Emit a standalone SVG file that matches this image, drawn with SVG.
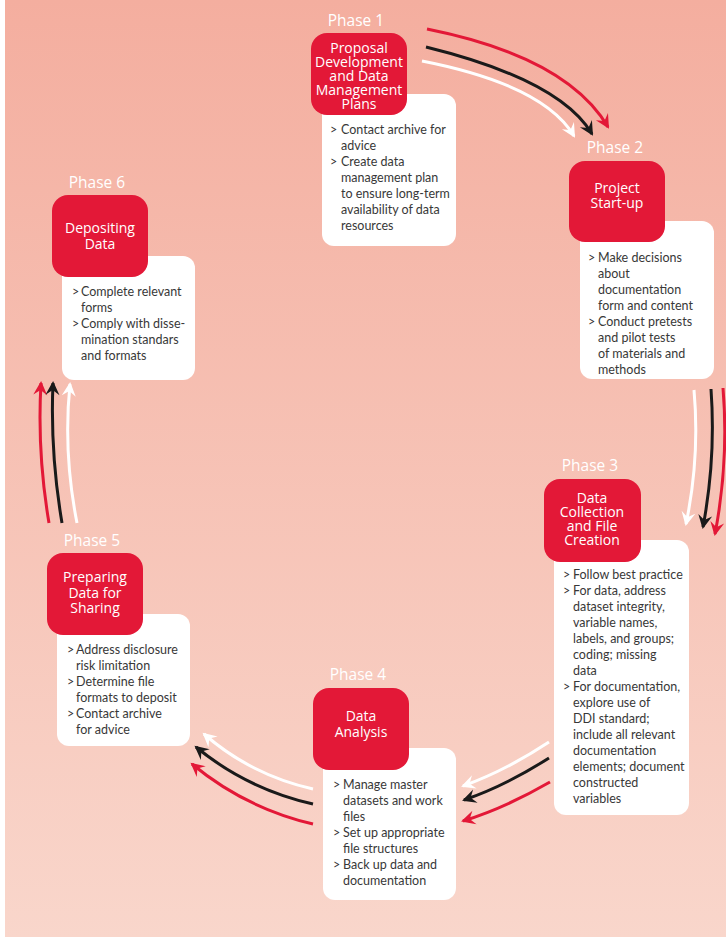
<svg xmlns="http://www.w3.org/2000/svg" width="726" height="938" viewBox="0 0 726 938">
<defs>
<linearGradient id="bg" x1="0" y1="0" x2="0" y2="1">
<stop offset="0" stop-color="#F4AE9F"/>
<stop offset="1" stop-color="#F9D6CB"/>
</linearGradient>
<marker id="hr" markerUnits="userSpaceOnUse" viewBox="-15 -8 17 16" refX="-2" refY="0" markerWidth="17" markerHeight="16" orient="auto"><path d="M-14,-7 L0,0 L-14,7 L-9,0 z" fill="#E31837"/></marker>
<marker id="hk" markerUnits="userSpaceOnUse" viewBox="-15 -8 17 16" refX="-2" refY="0" markerWidth="17" markerHeight="16" orient="auto"><path d="M-14,-7 L0,0 L-14,7 L-9,0 z" fill="#1A1A1A"/></marker>
<marker id="hw" markerUnits="userSpaceOnUse" viewBox="-15 -8 17 16" refX="-2" refY="0" markerWidth="17" markerHeight="16" orient="auto"><path d="M-14,-7 L0,0 L-14,7 L-9,0 z" fill="#FFFFFF"/></marker>
</defs>
<style>
.ph{font-family:"Open Sans","DejaVu Sans",sans-serif;font-size:15.5px;fill:#FFFFFF;text-anchor:middle}
.tt{font-family:"Open Sans","DejaVu Sans",sans-serif;font-size:14px;fill:#FFFFFF;text-anchor:middle}
.bd{font-family:Lato,"Liberation Sans",sans-serif;font-size:12.5px;fill:#383838}
.rb{fill:#E31837}
.wb{fill:#FFFFFF}
.ar{fill:none;stroke-width:3}
.r{stroke:#E31837;marker-end:url(#hr)}
.k{stroke:#1A1A1A;marker-end:url(#hk)}
.w{stroke:#FFFFFF;marker-end:url(#hw)}
</style>
<rect x="0" y="0" width="726" height="938" fill="#FFFFFF"/>
<rect x="5" y="0" width="721" height="937" fill="url(#bg)"/>

<g id="connectors">
<path class="ar r" d="M427,29 Q567,57 608,127"/>
<path class="ar k" d="M426,47 Q560,80 592,134"/>
<path class="ar w" d="M422,61 Q544,85 574,136"/>

<path class="ar w" d="M694,390 Q700,457 686,524"/>
<path class="ar k" d="M711,389 Q716,458 703,527"/>
<path class="ar r" d="M723,388 Q729,461 715,534"/>

<path class="ar w" d="M549,742 Q505,771 463,786"/>
<path class="ar k" d="M549,758 Q505,786 464,800"/>
<path class="ar r" d="M550,782 Q505,808 463,821"/>

<path class="ar w" d="M313,789 Q251,775 204,734"/>
<path class="ar k" d="M313,804 Q247,789 196,747"/>
<path class="ar r" d="M313,824 Q245,808 192,764"/>

<path class="ar r" d="M49,523 Q37,452 41,383"/>
<path class="ar k" d="M62,523 Q50,452 53,383"/>
<path class="ar w" d="M77,523 Q63,452 70,384"/>
</g>

<g id="phase1">
<text class="ph" x="356" y="26">Phase 1</text>
<rect class="wb" x="322" y="94" width="134" height="152" rx="12"/>
<rect class="rb" x="311" y="33" width="96" height="82" rx="16"/>
<text class="tt" x="359" y="53"><tspan x="359">Proposal</tspan><tspan x="359" dy="14">Development</tspan><tspan x="359" dy="14">and Data</tspan><tspan x="359" dy="14">Management</tspan><tspan x="359" dy="14">Plans</tspan></text>
<text class="bd" x="330" y="134">&gt;</text>
<text class="bd" x="341" y="134">Contact archive for</text>
<text class="bd" x="341" y="150">advice</text>
<text class="bd" x="330" y="166">&gt;</text>
<text class="bd" x="341" y="166">Create data</text>
<text class="bd" x="341" y="182">management plan</text>
<text class="bd" x="341" y="198">to ensure long-term</text>
<text class="bd" x="341" y="214">availability of data</text>
<text class="bd" x="341" y="230">resources</text>
</g>

<g id="phase2">
<text class="ph" x="615" y="153">Phase 2</text>
<rect class="wb" x="580" y="221" width="134" height="158" rx="12"/>
<rect class="rb" x="569" y="161" width="96" height="81" rx="16"/>
<text class="tt" x="617" y="193"><tspan x="617">Project</tspan><tspan x="617" dy="15">Start-up</tspan></text>
<text class="bd" x="588" y="262">&gt;</text>
<text class="bd" x="598" y="262">Make decisions</text>
<text class="bd" x="598" y="278">about</text>
<text class="bd" x="598" y="294">documentation</text>
<text class="bd" x="598" y="310">form and content</text>
<text class="bd" x="588" y="326">&gt;</text>
<text class="bd" x="598" y="326">Conduct pretests</text>
<text class="bd" x="598" y="342">and pilot tests</text>
<text class="bd" x="598" y="358">of materials and</text>
<text class="bd" x="598" y="374">methods</text>
</g>

<g id="phase3">
<text class="ph" x="590" y="471">Phase 3</text>
<rect class="wb" x="554" y="540" width="135" height="275" rx="12"/>
<rect class="rb" x="544" y="479" width="97" height="83" rx="16"/>
<text class="tt" x="592" y="503"><tspan x="592">Data</tspan><tspan x="592" dy="14">Collection</tspan><tspan x="592" dy="14">and File</tspan><tspan x="592" dy="14">Creation</tspan></text>
<text class="bd" x="563" y="579">&gt;</text>
<text class="bd" x="573" y="579">Follow best practice</text>
<text class="bd" x="563" y="595">&gt;</text>
<text class="bd" x="573" y="595">For data, address</text>
<text class="bd" x="573" y="611">dataset integrity,</text>
<text class="bd" x="573" y="627">variable names,</text>
<text class="bd" x="573" y="643">labels, and groups;</text>
<text class="bd" x="573" y="659">coding; missing</text>
<text class="bd" x="573" y="675">data</text>
<text class="bd" x="563" y="691">&gt;</text>
<text class="bd" x="573" y="691">For documentation,</text>
<text class="bd" x="573" y="707">explore use of</text>
<text class="bd" x="573" y="723">DDI standard;</text>
<text class="bd" x="573" y="739">include all relevant</text>
<text class="bd" x="573" y="755">documentation</text>
<text class="bd" x="573" y="771">elements; document</text>
<text class="bd" x="573" y="787">constructed</text>
<text class="bd" x="573" y="803">variables</text>
</g>

<g id="phase4">
<text class="ph" x="358" y="680">Phase 4</text>
<rect class="wb" x="323" y="748" width="133" height="152" rx="12"/>
<rect class="rb" x="313" y="688" width="96" height="82" rx="16"/>
<text class="tt" x="361" y="721"><tspan x="361">Data</tspan><tspan x="361" dy="16">Analysis</tspan></text>
<text class="bd" x="333" y="789">&gt;</text>
<text class="bd" x="343" y="789">Manage master</text>
<text class="bd" x="343" y="805">datasets and work</text>
<text class="bd" x="343" y="821">files</text>
<text class="bd" x="333" y="837">&gt;</text>
<text class="bd" x="343" y="837">Set up appropriate</text>
<text class="bd" x="343" y="853">file structures</text>
<text class="bd" x="333" y="869">&gt;</text>
<text class="bd" x="343" y="869">Back up data and</text>
<text class="bd" x="343" y="885">documentation</text>
</g>

<g id="phase5">
<text class="ph" x="92" y="546">Phase 5</text>
<rect class="wb" x="57" y="614" width="133" height="132" rx="12"/>
<rect class="rb" x="47" y="553" width="96" height="82" rx="16"/>
<text class="tt" x="95" y="582"><tspan x="95">Preparing</tspan><tspan x="95" dy="15.5">Data for</tspan><tspan x="95" dy="15.5">Sharing</tspan></text>
<text class="bd" x="67" y="654">&gt;</text>
<text class="bd" x="76" y="654">Address disclosure</text>
<text class="bd" x="76" y="670">risk limitation</text>
<text class="bd" x="67" y="686">&gt;</text>
<text class="bd" x="76" y="686">Determine file</text>
<text class="bd" x="76" y="702">formats to deposit</text>
<text class="bd" x="67" y="718">&gt;</text>
<text class="bd" x="76" y="718">Contact archive</text>
<text class="bd" x="76" y="734">for advice</text>
</g>

<g id="phase6">
<text class="ph" x="97" y="188">Phase 6</text>
<rect class="wb" x="62" y="256" width="133" height="124" rx="12"/>
<rect class="rb" x="52" y="195" width="96" height="82" rx="16"/>
<text class="tt" x="100" y="233"><tspan x="100">Depositing</tspan><tspan x="100" dy="16">Data</tspan></text>
<text class="bd" x="72" y="296">&gt;</text>
<text class="bd" x="81" y="296">Complete relevant</text>
<text class="bd" x="81" y="312">forms</text>
<text class="bd" x="72" y="328">&gt;</text>
<text class="bd" x="81" y="328">Comply with disse-</text>
<text class="bd" x="81" y="344">mination standars</text>
<text class="bd" x="81" y="360">and formats</text>
</g>
</svg>
